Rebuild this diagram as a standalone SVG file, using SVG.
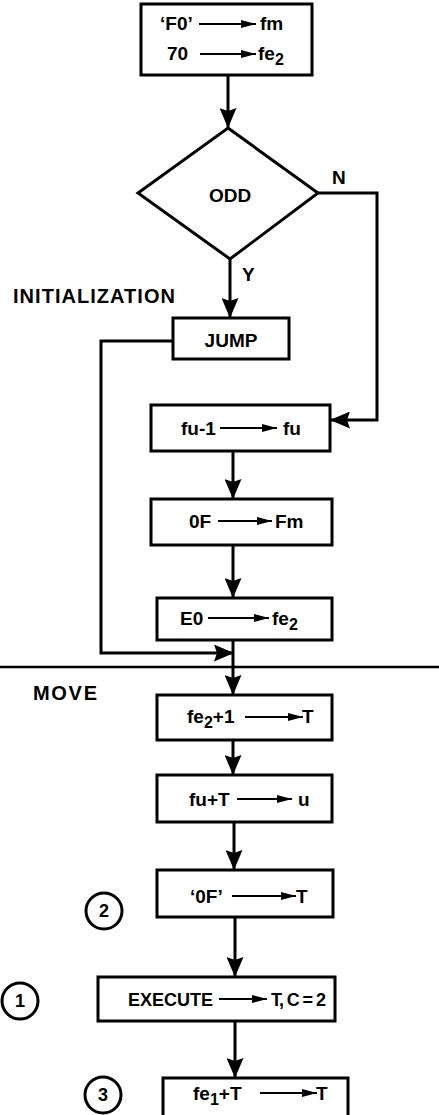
<svg xmlns="http://www.w3.org/2000/svg" width="439" height="1115" viewBox="0 0 439 1115">
<style>
.box{fill:#fff;stroke:#000;stroke-width:3}
.con{fill:none;stroke:#000;stroke-width:3}
.ia{stroke:#000;stroke-width:2.2}
text{font-family:"Liberation Sans",Arial,sans-serif;font-weight:bold;font-size:19px;fill:#000}
.lbl{font-size:20px}
.sub{font-size:16px}
.num{font-size:18px}
.ex{font-size:18px}
.circ{fill:#fff;stroke:#000;stroke-width:3}
</style>
<defs>
<marker id="ah" markerWidth="20" markerHeight="17" refX="19" refY="8.5" orient="auto" markerUnits="userSpaceOnUse"><path d="M0,0 L20,8.5 L0,17 L3,8.5 Z" fill="#000"/></marker>
<marker id="sa" markerWidth="15" markerHeight="8" refX="15" refY="4" orient="auto" markerUnits="userSpaceOnUse"><path d="M0,0 L15,4 L0,8 Z" fill="#000"/></marker>
</defs>
<g id="connectors">
<path class="con" d="M228,75 V127" marker-end="url(#ah)"/>
<path class="con" d="M230,259 V317" marker-end="url(#ah)"/>
<path class="con" d="M318,193 H377 V420 H331" marker-end="url(#ah)"/>
<path class="con" d="M173,341 H101 V653 H233" marker-end="url(#ah)"/>
<path class="con" d="M233,451 V498" marker-end="url(#ah)"/>
<path class="con" d="M233,545 V597" marker-end="url(#ah)"/>
<path class="con" d="M233,640 V694" marker-end="url(#ah)"/>
<path class="con" d="M233,740 V774" marker-end="url(#ah)"/>
<path class="con" d="M234,822 V869" marker-end="url(#ah)"/>
<path class="con" d="M235,917 V976" marker-end="url(#ah)"/>
<path class="con" d="M235,1021 V1077" marker-end="url(#ah)"/>
<path d="M0,667 H439" stroke="#000" stroke-width="2.5"/>
</g>
<g id="labels">
<text class="lbl" x="13" y="303" textLength="162" lengthAdjust="spacing">INITIALIZATION</text>
<text class="lbl" x="33" y="700" textLength="64" lengthAdjust="spacing">MOVE</text>
<text x="332" y="184">N</text>
<text x="242" y="281">Y</text>
</g>
<g id="n_init">
<rect class="box" x="141" y="4" width="171" height="71"/>
<text x="160" y="30">‘F0’</text>
<line class="ia" x1="199" y1="24" x2="256" y2="24" marker-end="url(#sa)"/>
<text x="260" y="30">fm</text>
<text x="167" y="60">70</text>
<line class="ia" x1="200" y1="54" x2="256" y2="54" marker-end="url(#sa)"/>
<text x="258" y="60">fe<tspan class="sub" dy="5">2</tspan></text>
</g>
<g id="n_odd">
<polygon class="box" points="228,128 318,193 230,259 138,193"/>
<text x="230" y="202" text-anchor="middle">ODD</text>
</g>
<g id="n_jump">
<rect class="box" x="173" y="318" width="116" height="41"/>
<text x="231" y="347" text-anchor="middle">JUMP</text>
</g>
<g id="n_fu1">
<rect class="box" x="151" y="405" width="179" height="46"/>
<text x="181" y="435">fu-1</text>
<line class="ia" x1="220" y1="428" x2="277" y2="428" marker-end="url(#sa)"/>
<text x="283" y="435">fu</text>
</g>
<g id="n_0f">
<rect class="box" x="151" y="499" width="181" height="46"/>
<text x="189" y="528">0F</text>
<line class="ia" x1="218" y1="521" x2="272" y2="521" marker-end="url(#sa)"/>
<text x="275" y="528">Fm</text>
</g>
<g id="n_e0">
<rect class="box" x="157" y="598" width="175" height="42"/>
<text x="180" y="625">E0</text>
<line class="ia" x1="208" y1="618" x2="269" y2="618" marker-end="url(#sa)"/>
<text x="272" y="625">fe<tspan class="sub" dy="5">2</tspan></text>
</g>
<g id="n_fe2p1">
<rect class="box" x="157" y="695" width="175" height="45"/>
<text x="187" y="723">fe<tspan class="sub" dy="5">2</tspan><tspan dy="-5">+1</tspan></text>
<line class="ia" x1="245" y1="717" x2="303" y2="717" marker-end="url(#sa)"/>
<text x="302" y="723">T</text>
</g>
<g id="n_fut">
<rect class="box" x="157" y="775" width="175" height="47"/>
<text x="189" y="806">fu+T</text>
<line class="ia" x1="237" y1="799" x2="292" y2="799" marker-end="url(#sa)"/>
<text x="298" y="806">u</text>
</g>
<g id="n_0ft">
<rect class="box" x="157" y="870" width="176" height="47"/>
<text x="190" y="903">‘0F’</text>
<line class="ia" x1="232" y1="896" x2="296" y2="896" marker-end="url(#sa)"/>
<text x="296" y="903">T</text>
</g>
<g id="n_exec">
<rect class="box" x="98" y="977" width="237" height="44"/>
<text class="ex" x="128" y="1006">EXECUTE</text>
<line class="ia" x1="219" y1="999" x2="267" y2="999" marker-end="url(#sa)"/>
<text class="ex" x="271" y="1006" textLength="55" lengthAdjust="spacing">T, C = 2</text>
</g>
<g id="n_fe1t">
<rect class="box" x="163" y="1078" width="185" height="45"/>
<text x="193" y="1100">fe<tspan class="sub" dy="5">1</tspan><tspan dy="-5">+T</tspan></text>
<line class="ia" x1="260" y1="1093" x2="317" y2="1093" marker-end="url(#sa)"/>
<text x="316" y="1100">T</text>
</g>
<g id="c2">
<circle class="circ" cx="104" cy="911" r="18"/>
<text class="num" x="104" y="917" text-anchor="middle">2</text>
</g>
<g id="c1">
<circle class="circ" cx="20" cy="1001" r="18"/>
<text class="num" x="20" y="1007" text-anchor="middle">1</text>
</g>
<g id="c3">
<circle class="circ" cx="103" cy="1095" r="18"/>
<text class="num" x="103" y="1101" text-anchor="middle">3</text>
</g>
</svg>
